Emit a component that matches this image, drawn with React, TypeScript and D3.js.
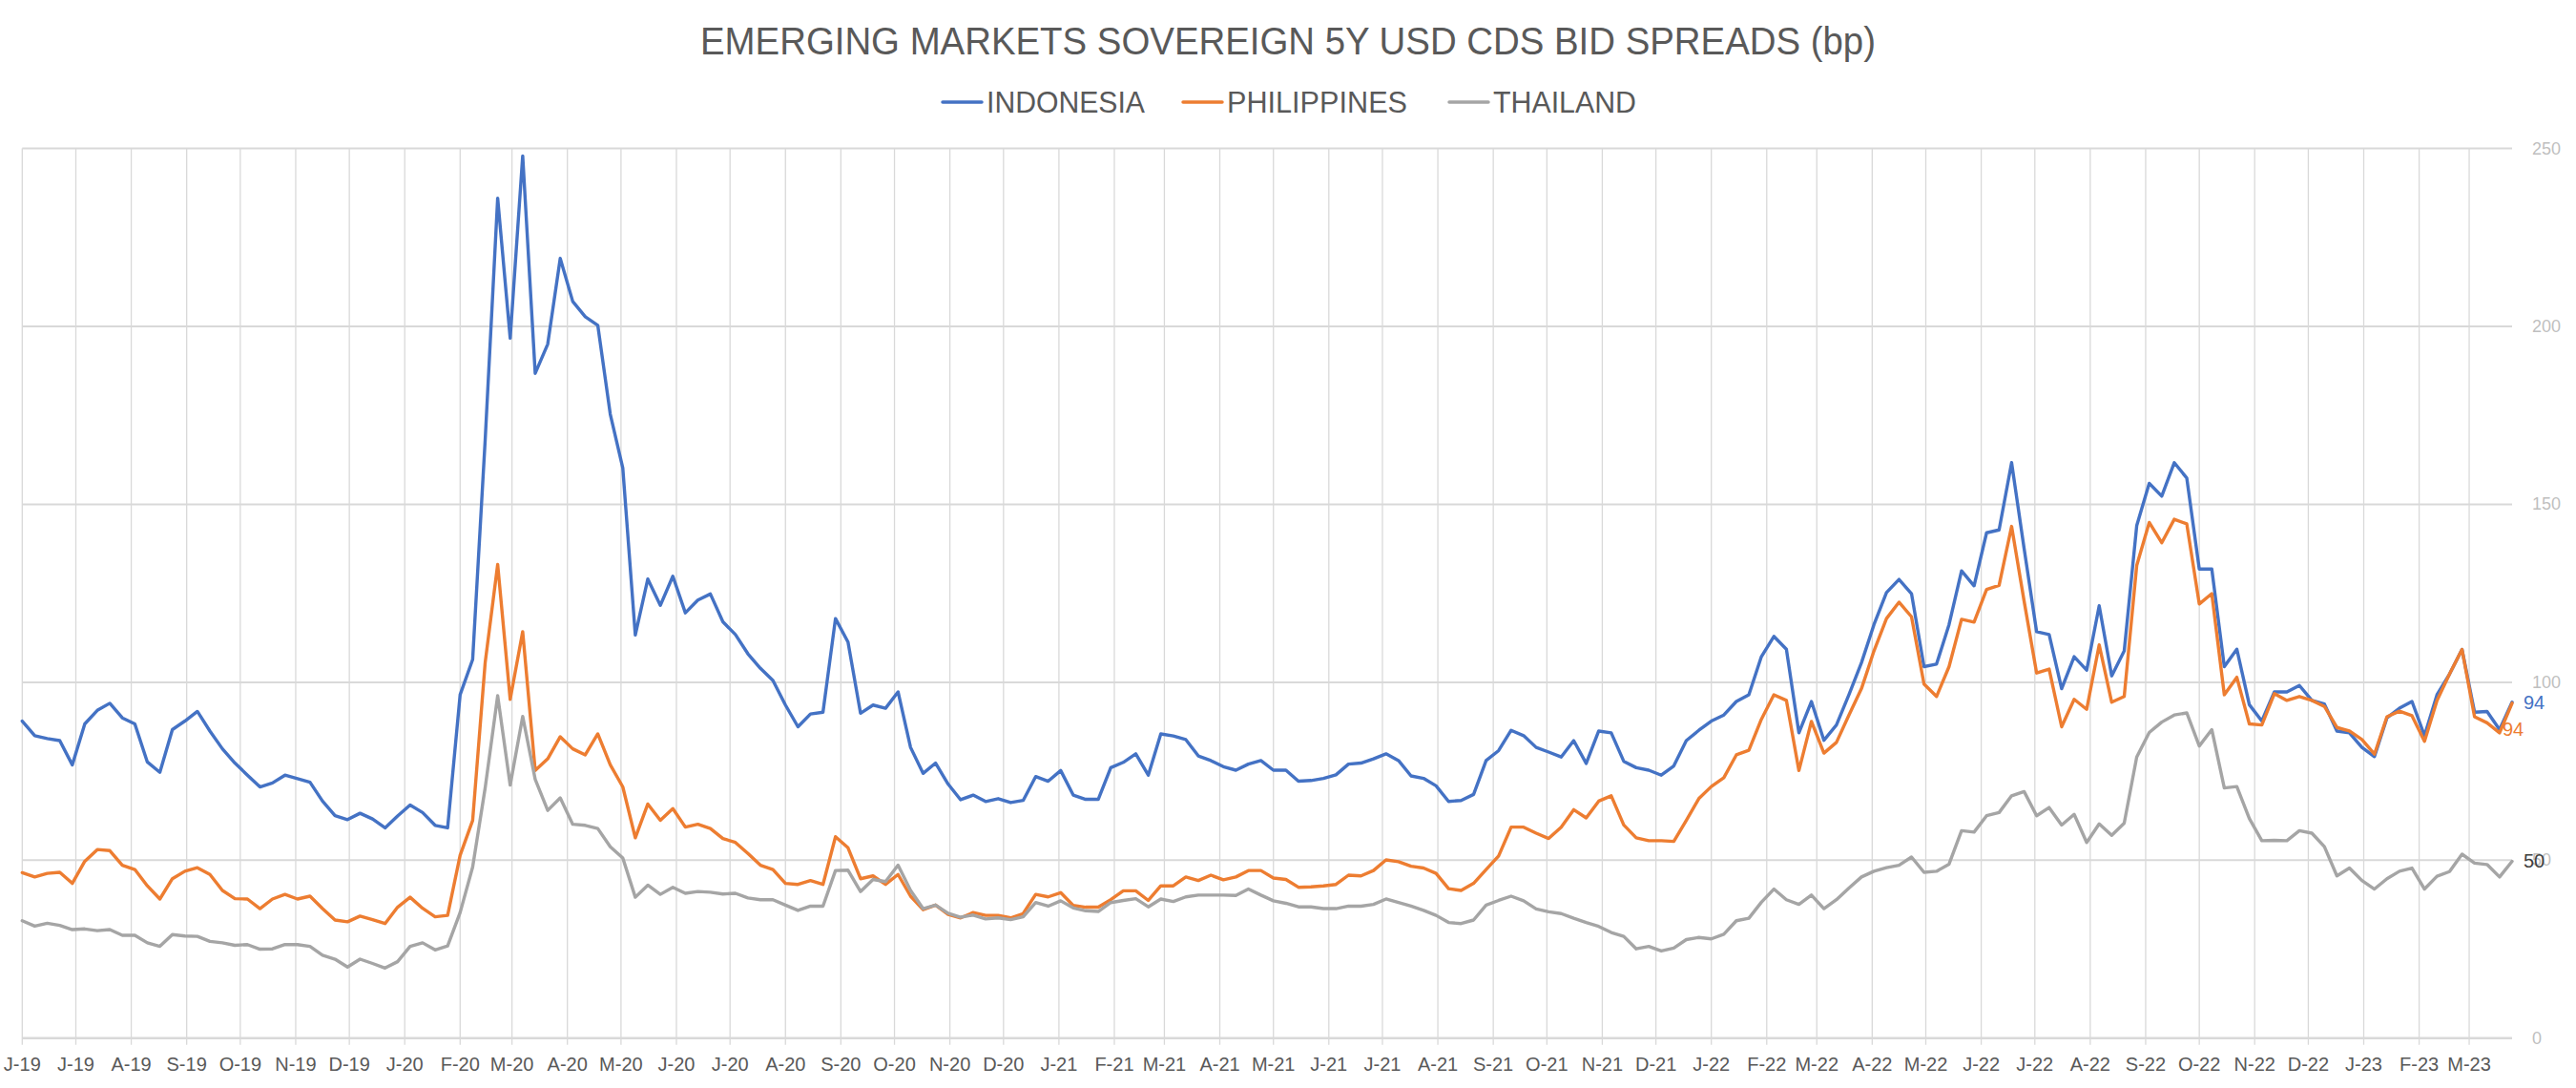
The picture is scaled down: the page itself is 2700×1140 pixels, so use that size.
import * as d3 from 'd3';

// weekly observations, first one on the first month tick
const startDate = new Date(2019, 5, 7);

const indonesia = [
  89.1, 85.0, 84.2, 83.6, 76.8, 88.3, 92.1, 94.1, 90.0, 88.3, 77.6, 74.7, 86.7, 89.1, 91.8, 86.3, 81.3,
  77.3, 73.9, 70.6, 71.7, 73.9, 72.9, 71.9, 66.6, 62.5, 61.4, 63.2, 61.6, 59.1, 62.4, 65.5, 63.4, 59.8,
  59.1, 96.5, 106.4, 168.0, 236.0, 196.7, 247.9, 186.8, 195.0, 219.1, 207.0, 202.7, 200.3, 175.3, 160.2,
  113.3, 129.0, 121.6, 129.8, 119.5, 123.1, 124.8, 117.0, 113.4, 108.0, 103.9, 100.5, 93.6, 87.5, 91.1,
  91.6, 117.9, 111.3,
  91.3, 93.6, 92.7, 97.3, 81.7, 74.4, 77.3, 71.4, 67.0, 68.3, 66.5, 67.3, 66.2, 66.8, 73.5, 72.2, 75.2,
  68.3, 67.1, 67.1, 76.0, 77.5, 79.9, 73.9, 85.5, 84.9, 83.9, 79.3, 78.0, 76.3, 75.3, 77.0, 78.0, 75.3,
  75.3, 72.2, 72.4, 73.0, 74.0, 77.0, 77.3, 78.5, 79.9, 78.0, 73.7, 73.0, 70.9, 66.5, 66.8, 68.5, 78.0,
  80.8, 86.5, 85.0, 81.7, 80.4, 79.0, 83.6, 77.2, 86.3, 85.8, 77.8, 76.0, 75.3, 73.9, 76.5, 83.6,
  86.5, 89.1, 90.8, 94.6, 96.5, 107.2, 112.9, 109.3, 85.8, 94.6, 83.7, 88.0, 96.5, 105.5, 116.2, 125.2,
  128.9, 124.9, 104.4, 105.1, 116.2, 131.3, 127.1, 142.0, 142.8, 161.7, 137.6, 114.2, 113.4, 98.2, 107.2,
  103.4, 121.5, 101.8, 108.8,
  144.0, 155.9, 152.3, 161.7, 157.4, 131.8, 131.8, 104.4, 109.3, 93.7, 89.1, 97.3, 97.3, 99.1, 94.9, 93.9,
  86.3, 85.8, 81.7, 79.1, 90.0, 92.7, 94.6, 85.0, 96.5, 102.3, 109.2, 91.6, 91.8, 86.7, 94.4,
];

const philippines = [
  46.5, 45.3, 46.3, 46.6, 43.5, 49.7, 53.0, 52.7, 48.6, 47.4, 42.8, 39.1, 44.8, 46.9, 47.9, 46.0, 41.5,
  39.2, 39.1, 36.4, 39.1, 40.4, 39.1, 39.9, 36.4, 33.2, 32.7, 34.3, 33.3, 32.2, 36.8, 39.6, 36.5, 34.1,
  34.5, 51.4, 61.2, 105.5, 133.1, 95.2, 114.2, 75.2, 78.5, 84.7, 81.3, 79.6, 85.5, 76.8, 70.6, 56.3, 65.8,
  61.2, 64.5, 59.3, 60.1, 58.9, 56.1, 55.0, 51.9, 48.6, 47.4, 43.5, 43.2, 44.3, 43.2, 56.6, 53.5,
  44.8, 45.6, 43.2, 46.0, 39.9, 36.1, 37.4, 34.8, 33.8, 35.3, 34.5, 34.5, 33.8, 35.0, 40.4, 39.7, 40.9,
  37.3, 36.8, 36.8, 38.9, 41.4, 41.4, 38.7, 42.8, 42.8, 45.3, 44.3, 45.8, 44.5, 45.3, 47.1, 47.1, 45.0,
  44.6, 42.4, 42.5, 42.8, 43.2, 45.8, 45.6, 47.1, 50.1, 49.6, 48.3, 47.8, 46.3, 42.0, 41.5, 43.5, 47.4,
  51.2, 59.3, 59.3, 57.6, 56.1, 59.3, 64.2, 61.9, 66.6, 68.1, 59.9, 56.3, 55.5, 55.5, 55.3, 61.2,
  67.3, 70.7, 73.2, 79.6, 80.9, 89.6, 96.5, 94.9, 75.2, 89.0, 80.1, 83.1, 90.8, 98.2, 108.8, 117.9, 122.5,
  118.4, 99.5, 96.0, 104.4, 117.7, 116.9, 126.1, 127.2, 143.8, 122.8, 102.6, 103.7, 87.5, 95.2, 92.4,
  110.5, 94.4, 96.0,
  132.8, 144.9, 139.2, 145.8, 144.5, 122.0, 124.9, 96.5, 101.4, 88.3, 88.0, 96.8, 94.9, 96.0, 94.9, 93.2,
  87.3, 86.3, 83.9, 79.8, 90.3, 91.9, 90.6, 83.4, 94.9, 102.3, 109.2, 90.3, 88.6, 85.8, 94.1,
];

const thailand = [
  33.0, 31.5, 32.3, 31.7, 30.5, 30.7, 30.2, 30.5, 28.9, 28.9, 26.8, 25.8, 29.1, 28.7, 28.6, 27.2, 26.8,
  26.1, 26.3, 25.0, 25.1, 26.3, 26.3, 25.8, 23.3, 22.2, 20.0, 22.2, 21.0, 19.7, 21.5, 25.8, 26.8, 24.8,
  25.9, 35.3, 48.1, 70.3, 96.2, 71.1, 90.4, 72.7, 64.0, 67.5, 60.1, 59.8, 58.9, 53.8, 50.6, 39.6, 43.0,
  40.4, 42.4, 40.7, 41.2, 41.0, 40.5, 40.7, 39.4, 38.9, 38.9, 37.4, 35.9, 37.1, 37.1, 47.1, 47.2,
  41.2, 44.6, 44.0, 48.6, 41.5, 36.4, 37.4, 35.1, 34.0, 34.6, 33.5, 33.8, 33.3, 34.1, 38.1, 37.1, 38.6,
  36.6, 35.8, 35.6, 38.1, 38.7, 39.2, 36.9, 39.1, 38.4, 39.7, 40.2, 40.2, 40.2, 40.1, 41.9, 40.2, 38.6,
  37.9, 36.9, 36.9, 36.4, 36.4, 37.1, 37.1, 37.6, 39.1, 38.1, 37.1, 35.9, 34.5, 32.5, 32.2, 33.2, 37.4,
  38.7, 39.9, 38.6, 36.3, 35.5, 35.0, 33.7, 32.5, 31.4, 29.7, 28.6, 25.1, 25.8, 24.5, 25.3, 27.7,
  28.3, 27.9, 29.2, 33.0, 33.7, 38.2, 41.9, 38.9, 37.6, 40.2, 36.4, 38.9, 42.2, 45.3, 46.9, 47.9, 48.6,
  50.9, 46.6, 46.9, 48.9, 58.3, 57.9, 62.5, 63.4, 68.1, 69.3, 62.5, 64.8, 59.9, 62.9, 55.0, 60.2, 57.0,
  60.4,
  79.0, 85.9, 88.8, 90.8, 91.4, 82.1, 86.7, 70.3, 70.7, 61.7, 55.5, 55.6, 55.5, 58.3, 57.6, 53.8, 45.6,
  47.8, 44.3, 41.9, 44.8, 46.9, 47.8, 41.9, 45.5, 46.8, 51.7, 49.2, 48.8, 45.3, 49.7,
];

const seriesNames = ['INDONESIA', 'PHILIPPINES', 'THAILAND'];
const seriesColors = ['#4472C4', '#ED7D31', '#A5A5A5'];
const yTicks = [0, 50, 100, 150, 200, 250];
const monthTickCount = 46;

const W = 2700;
const H = 1140;
const plot = { left: 23.3, right: 2633, top: 155.5, bottom: 1087.8 };
const font = '"Liberation Sans", Arial, sans-serif';
const narrowFont = '"Liberation Sans Narrow", "Liberation Sans", Arial, sans-serif';

// legend layout: marker start and text width for each entry
const legendX = [988, 1240, 1519];
const legendTextW = [166, 189, 150];

const dates = indonesia.map((_, i) => d3.timeDay.offset(startDate, i * 7));
const monthTicks = d3.range(monthTickCount).map((i) => d3.timeMonth.offset(startDate, i));
const fmtMonth = d3.timeFormat('%b');
const fmtYear = d3.timeFormat('%y');
const tickLabel = (d: Date) => `${fmtMonth(d)[0]}-${fmtYear(d)}`;

export default function App() {
  const x = d3
    .scaleTime()
    .domain([dates[0], dates[dates.length - 1]])
    .range([plot.left, plot.right]);
  const y = d3.scaleLinear().domain([0, 250]).range([plot.bottom, plot.top]);

  const line = d3
    .line<number>()
    .x((_, i) => x(dates[i]))
    .y((d) => y(d));

  const series = [indonesia, philippines, thailand];
  const last = (s: number[]) => s[s.length - 1];

  // end-of-line labels, placed as in the original (orange nudged down onto the line)
  const endLabels = [
    { text: Math.round(last(indonesia)), x: plot.right + 12, y: y(last(indonesia)), color: seriesColors[0] },
    { text: Math.round(last(philippines)), x: plot.right - 10, y: y(last(philippines)) + 27, color: seriesColors[1] },
    { text: Math.round(last(thailand)), x: plot.right + 12, y: y(last(thailand)), color: '#404040' },
  ];

  return (
    <svg
      width={W}
      height={H}
      viewBox={`0 0 ${W} ${H}`}
      style={{ position: 'absolute', left: 0, top: 0, background: '#fff' }}
    >
      <rect width={W} height={H} fill="#fff" />

      <text
        x={W / 2}
        y={56.5}
        textAnchor="middle"
        fontFamily={font}
        fontSize={41}
        fill="#595959"
        textLength={1232}
        lengthAdjust="spacingAndGlyphs"
      >
        EMERGING MARKETS SOVEREIGN 5Y USD CDS BID SPREADS (bp)
      </text>

      {seriesNames.map((name, i) => (
        <g key={name}>
          <line
            x1={legendX[i]}
            x2={legendX[i] + 41}
            y1={107}
            y2={107}
            stroke={seriesColors[i]}
            strokeWidth={3.5}
            strokeLinecap="round"
          />
          <text
            x={legendX[i] + 46}
            y={118}
            fontFamily={font}
            fontSize={32}
            fill="#595959"
            textLength={legendTextW[i]}
            lengthAdjust="spacingAndGlyphs"
          >
            {name}
          </text>
        </g>
      ))}

      {/* vertical month gridlines, running down into the tick marks */}
      {monthTicks.map((d) => (
        <line
          key={+d}
          x1={x(d)}
          x2={x(d)}
          y1={plot.top}
          y2={plot.bottom + 7}
          stroke="#D9D9D9"
          strokeWidth={1.3}
        />
      ))}

      {yTicks.map((t) => (
        <line
          key={t}
          x1={plot.left}
          x2={plot.right}
          y1={y(t)}
          y2={y(t)}
          stroke="#D9D9D9"
          strokeWidth={t === 0 ? 2.5 : 2}
        />
      ))}

      {yTicks.map((t) => (
        <text
          key={t}
          x={plot.right + 21}
          y={y(t)}
          dominantBaseline="central"
          fontFamily={font}
          fontSize={18}
          fill="#BFBFBF"
        >
          {t}
        </text>
      ))}

      {monthTicks.map((d) => (
        <text
          key={+d}
          x={x(d)}
          y={1122}
          textAnchor="middle"
          fontFamily={narrowFont}
          fontSize={20}
          fill="#595959"
        >
          {tickLabel(d)}
        </text>
      ))}

      {series.map((s, i) => (
        <path
          key={seriesNames[i]}
          d={line(s) ?? ''}
          fill="none"
          stroke={seriesColors[i]}
          strokeWidth={3.4}
          strokeLinejoin="round"
          strokeLinecap="round"
        />
      ))}

      {endLabels.map((l, i) => (
        <text
          key={i}
          x={l.x}
          y={l.y}
          dominantBaseline="central"
          fontFamily={font}
          fontSize={20}
          fill={l.color}
        >
          {l.text}
        </text>
      ))}
    </svg>
  );
}
